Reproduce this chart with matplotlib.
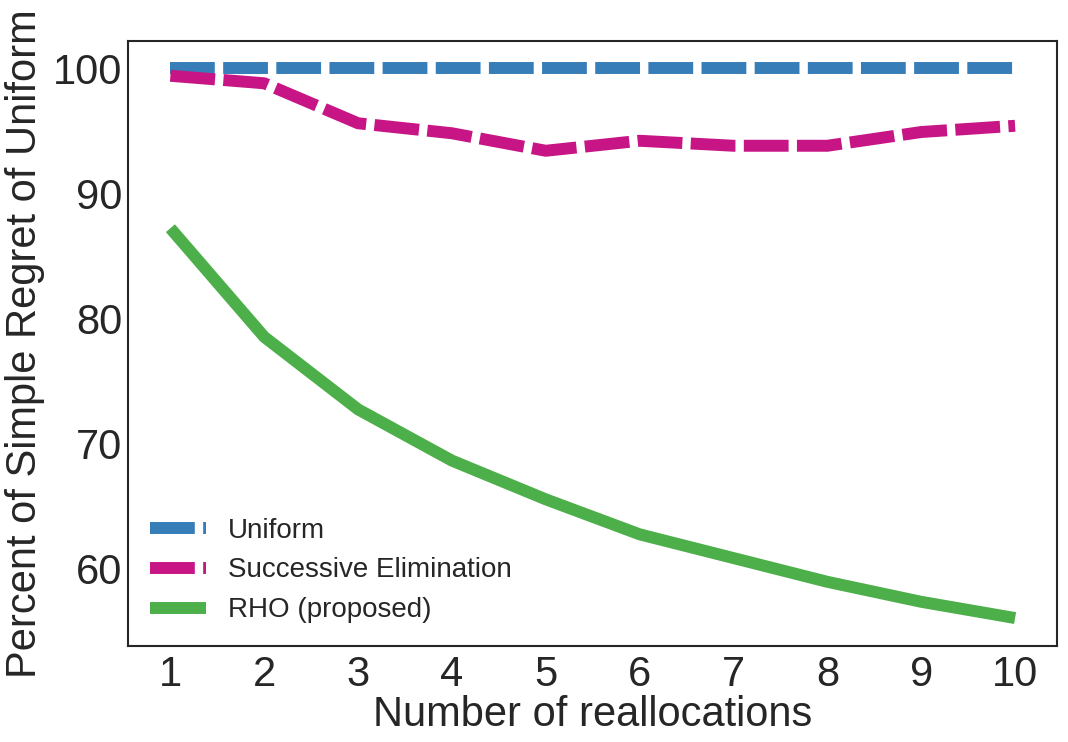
import numpy as np
import matplotlib
matplotlib.use("Agg")
import matplotlib.pyplot as plt
import seaborn as sns

sns.set_style("white")
plt.rcParams['font.family'] = ['Liberation Sans', 'DejaVu Sans']

reallocations = np.arange(1, 11)
uniform = [100, 100, 100, 100, 100, 100, 100, 100, 100, 100]
succ_elim = [99.4, 98.8, 95.6, 94.8, 93.4, 94.2, 93.8, 93.8, 94.9, 95.4]
rho = [87.2, 78.5, 72.7, 68.6, 65.5, 62.7, 60.8, 58.9, 57.3, 56.0]

fig, ax = plt.subplots(figsize=(10.68, 7.42), dpi=100)
lw = 8.6
dash = (3.75, 0.7)
ax.plot(reallocations, uniform, color="#377eb8", lw=lw, dashes=dash, label="Uniform")
ax.plot(reallocations, succ_elim, color="#c71585", lw=lw, dashes=dash,
        label="Successive Elimination")
ax.plot(reallocations, rho, color="#4daf4a", lw=lw, solid_capstyle="butt",
        label="RHO (proposed)")

ax.set_xticks(reallocations)
ax.set_yticks([60, 70, 80, 90, 100])
ax.tick_params(labelsize=30, colors="#262626", pad=3)
ax.tick_params(axis="y", pad=0.5)
ax.set_xlabel("Number of reallocations", fontsize=30, color="#262626", labelpad=0)
ax.set_ylabel("Percent of Simple Regret of Uniform", fontsize=30, color="#262626", labelpad=6)
for s in ax.spines.values():
    s.set_color("#262626")
    s.set_linewidth(1.5)

leg = ax.legend(loc="lower left", fontsize=20, frameon=False, handlelength=2.0,
                borderaxespad=0.4)
for t in leg.get_texts():
    t.set_color("#262626")

plt.subplots_adjust(left=0.12, right=0.99, top=0.945, bottom=0.13)
plt.savefig("out.png", dpi=100)
